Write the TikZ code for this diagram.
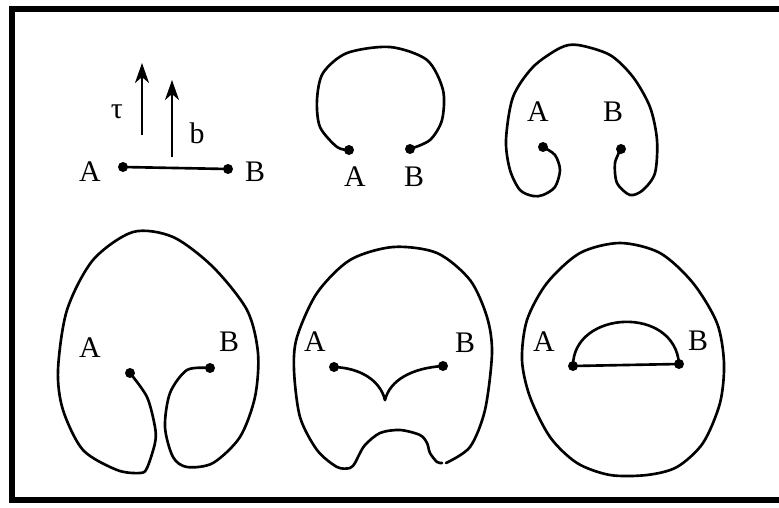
\documentclass[tikz,border=0pt]{standalone}
\usepackage{fontspec}
\setmainfont{Liberation Serif}
\usetikzlibrary{arrows.meta}

\begin{document}
\begin{tikzpicture}[x=0.02cm, y=-0.02cm,
  frame/.style={line width=3.2pt},
  curve/.style={line width=1.5pt, line cap=round, line join=round},
  dot/.style={circle, fill, inner sep=0pt, minimum size=0.2cm},
  lbl/.style={font=\fontsize{17}{19}\selectfont, inner sep=0pt},
  arr/.style={-{Stealth[length=4mm, width=2.8mm, inset=1.2mm]}, line width=1.4pt}
]
  \useasboundingbox (0,0) rectangle (779,508);
  \draw[frame] (779,9) -- (12,9) -- (12,500) -- (779,500);

  % segment AB with tau and b
  \node[dot] (a1) at (123,167) {};
  \node[dot] (b1) at (228,169) {};
  \draw[curve] (a1.center) -- (b1.center);
  \node[lbl] (la1) at (90,172) {A};
  \node[lbl] (lb1) at (255,172) {B};
  \coordinate (tau0) at (142,135);
  \coordinate (tau1) at (142,63);
  \coordinate (bv0) at (172,157);
  \coordinate (bv1) at (172,80);
  \draw[arr] (tau0) -- (tau1);
  \draw[arr] (bv0) -- (bv1);
  \node[lbl] (ltau) at (117,112) {τ};
  \node[lbl] (lbv) at (197,133) {b};

  % open loop
  \node[dot] (a2) at (349,150) {};
  \node[dot] (b2) at (410,149) {};
  \draw[curve] plot[smooth] coordinates {(a2.center) (337,147) (320,127)
    (317,100) (323,73) (347,53) (390,47) (427,60) (443,90) (442,120)
    (430,140) (b2.center)};
  \node[lbl] (la2) at (355,177) {A};
  \node[lbl] (lb2) at (414,177) {B};

  % loop with two hooks
  \node[dot] (a3) at (543,147) {};
  \node[dot] (b3) at (621,149) {};
  \draw[curve] plot[smooth] coordinates {(a3.center) (555,155) (560,170)
    (555,187) (543,195) (533,196) (520,190) (510,170) (506,140) (513,97)
    (533,67) (560,48) (578,45) (610,55) (633,77) (650,107) (657,140)
    (655,173) (643,190) (630,195) (617,183) (615,163) (b3.center)};
  \node[lbl] (la3) at (538,112) {A};
  \node[lbl] (lb3) at (613,112) {B};

  % large loop, ends curled inside
  \node[dot] (a4) at (130,373) {};
  \node[dot] (b4) at (210,368) {};
  \draw[curve] plot[smooth] coordinates {(a4.center) (147,397) (155,427)
    (155,443) (147,468) (140,473) (117,470) (83,450) (63,410) (58,370)
    (67,310) (93,260) (133,232) (173,237) (213,267) (247,310) (258,353)
    (255,397) (240,437) (213,463) (187,467) (173,457) (165,427) (170,393)
    (187,370) (b4.center)};
  \node[lbl] (la4) at (90,348) {A};
  \node[lbl] (lb4) at (229,342) {B};

  % closed loop with cusp
  \node[dot] (a5) at (334,367) {};
  \node[dot] (b5) at (443,366) {};
  \coordinate (cusp5) at (385,400);
  \draw[curve] (a5.center) .. controls (360,368) and (380,380) .. (cusp5);
  \draw[curve] (b5.center) .. controls (412,368) and (390,380) .. (cusp5);
  \draw[curve] plot[smooth] coordinates {(446,463) (470,447) (485,410)
    (492,353) (487,317) (470,280) (437,253) (393,247) (350,260) (317,293)
    (297,337) (294,370) (300,417) (317,450) (337,467) (350,468) (355,463)
    (358,457) (365,445) (380,433) (400,430) (420,435) (427,443) (430,453)
    (437,462) (442,463)};
  \node[lbl] (la5) at (315,342) {A};
  \node[lbl] (lb5) at (465,343) {B};

  % closed loop with arc
  \node[dot] (a6) at (573,366) {};
  \node[dot] (b6) at (679,364) {};
  \draw[curve] (a6.center) -- (b6.center);
  \draw[curve] (a6.center) .. controls (573,310) and (675,305) .. (b6.center);
  \draw[curve] plot[smooth cycle] coordinates {(620,243) (660,253) (693,283)
    (717,323) (724,363) (720,403) (703,443) (677,467) (647,475) (610,475)
    (577,463) (550,437) (530,397) (522,360) (527,320) (547,283) (580,253)};
  \node[lbl] (la6) at (544,342) {A};
  \node[lbl] (lb6) at (698,341) {B};
\end{tikzpicture}
\end{document}
